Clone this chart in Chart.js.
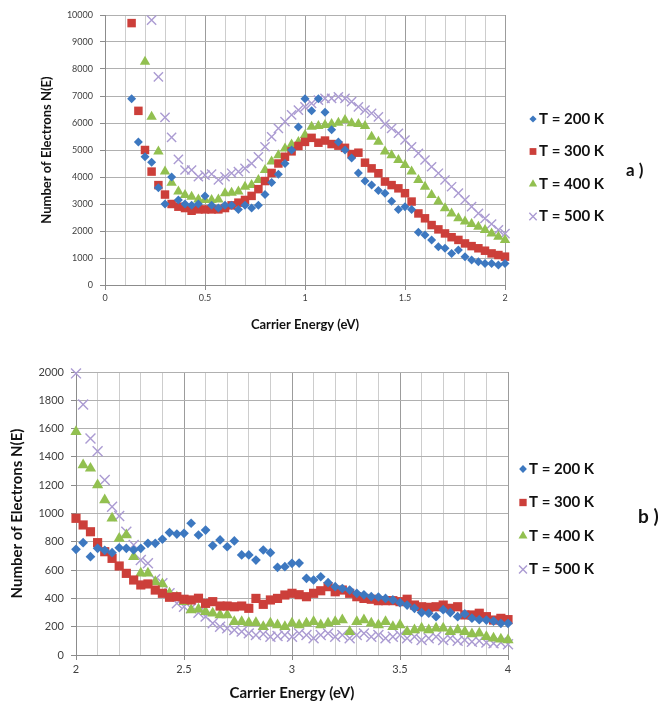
<!DOCTYPE html>
<html>
<head>
<meta charset="utf-8">
<script src="https://cdn.jsdelivr.net/npm/chart.js@4.4.0/dist/chart.umd.min.js"></script>
<style>
  html, body { margin: 0; padding: 0; background: #fff; }
  #wrap { position: relative; width: 662px; height: 707px; overflow: hidden; }
  canvas { position: absolute; left: 0; }
  #chartA { top: 0; }
  #chartB { top: 355px; }
</style>
</head>
<body>
<div id="wrap">
  <canvas id="chartA" width="662" height="345"></canvas>
  <canvas id="chartB" width="662" height="352"></canvas>
</div>
<script>
// series labels
const labels = ['T = 200 K', 'T = 300 K', 'T = 400 K', 'T = 500 K'];

// panel a) carrier energy (eV)
const energyA = [0.133, 0.167, 0.2, 0.233, 0.267, 0.3, 0.333, 0.367, 0.4, 0.433,
  0.467, 0.5, 0.533, 0.567, 0.6, 0.633, 0.667, 0.7, 0.733, 0.767,
  0.8, 0.833, 0.867, 0.9, 0.933, 0.967, 1.0, 1.033, 1.067, 1.1,
  1.133, 1.167, 1.2, 1.233, 1.267, 1.3, 1.333, 1.367, 1.4, 1.433,
  1.467, 1.5, 1.533, 1.567, 1.6, 1.633, 1.667, 1.7, 1.733, 1.767,
  1.8, 1.833, 1.867, 1.9, 1.933, 1.967, 2.0];
const t200A = [6900, 5300, 4750, 4550, 3600, 3000, 4000, 3150, 3000, 2950,
  3000, 3300, 2950, 2850, 2950, 2950, 2800, 2950, 2850, 2950,
  3350, 3800, 4100, 4500, 5000, 5850, 6900, 6450, 6900, 6400,
  5750, 5300, 5000, 4700, 4150, 3850, 3700, 3500, 3400, 3100,
  2800, 2900, 2800, 1950, 1850, 1670, 1420, 1360, 1170, 1300,
  1050, 930, 860, 800, 800, 740, 800];
const t300A = [9700, 6450, 5000, 4200, 3700, 3350, 3000, 2900, 2850, 2750,
  2800, 2800, 2800, 2800, 2850, 2950, 3050, 3150, 3300, 3550,
  3850, 4150, 4500, 4750, 4950, 5150, 5300, 5450, 5270, 5350,
  5220, 5160, 5080, 4850, 4900, 4530, 4320, 4140, 3830, 3700,
  3580, 3400, 3090, 2650, 2470, 2220, 2060, 1910, 1770, 1670,
  1540, 1440, 1360, 1270, 1170, 1110, 1050];
const t400A = [null, null, 8270, 6230, 4940, 4200, 3790, 3460, 3330, 3270,
  3170, 3150, 3150, 3170, 3400, 3420, 3460, 3640, 3700, 3890,
  4260, 4570, 4810, 5060, 5200, 5300, 5560, 5860, 5890, 5930,
  5960, 6010, 6110, 5990, 5960, 5890, 5490, 5310, 4940, 4810,
  4630, 4440, 4200, 3890, 3640, 3330, 3090, 2840, 2650, 2470,
  2350, 2260, 2160, 2040, 1910, 1790, 1670];
const t500A = [null, null, null, 9810, 7710, 6210, 5470, 4650, 4260, 4260,
  4010, 4070, 4110, 3890, 4010, 4140, 4200, 4320, 4500, 4750,
  5120, 5490, 5800, 6050, 6300, 6480, 6600, 6730, 6850, 6910,
  6910, 6970, 6910, 6790, 6600, 6480, 6360, 6230, 5960, 5800,
  5620, 5370, 5120, 4880, 4630, 4380, 4140, 3890, 3640, 3400,
  3150, 2900, 2650, 2470, 2260, 2040, 1900];

// panel b) carrier energy (eV)
const energyB = [2.0, 2.033, 2.067, 2.1, 2.133, 2.167, 2.2, 2.233, 2.267, 2.3,
  2.333, 2.367, 2.4, 2.433, 2.467, 2.5, 2.533, 2.567, 2.6, 2.633,
  2.667, 2.7, 2.733, 2.767, 2.8, 2.833, 2.867, 2.9, 2.933, 2.967,
  3.0, 3.033, 3.067, 3.1, 3.133, 3.167, 3.2, 3.233, 3.267, 3.3,
  3.333, 3.367, 3.4, 3.433, 3.467, 3.5, 3.533, 3.567, 3.6, 3.633,
  3.667, 3.7, 3.733, 3.767, 3.8, 3.833, 3.867, 3.9, 3.933, 3.967, 4.0];
const t200B = [747, 794, 695, 754, 740, 723, 758, 754, 742, 754,
  789, 789, 818, 865, 855, 860, 931, 848, 883, 773,
  813, 765, 806, 707, 707, 671, 742, 723, 620, 624,
  648, 650, 542, 530, 553, 511, 483, 470, 459, 436,
  425, 412, 410, 400, 389, 370, 353, 330, 300, 295,
  271, 320, 300, 271, 290, 260, 250, 247, 240, 224, 224];
const t300B = [966, 919, 871, 794, 730, 683, 629, 577, 530, 495,
  502, 459, 436, 408, 412, 394, 389, 401, 365, 377,
  346, 346, 341, 346, 330, 400, 358, 389, 400, 424,
  436, 426, 412, 436, 454, 483, 447, 459, 436, 412,
  400, 394, 384, 384, 384, 377, 394, 353, 341, 337,
  341, 353, 330, 341, 283, 283, 295, 271, 247, 259, 250];
const t400B = [1578, 1343, 1319, 1201, 1095, 966, 824, 848, 695, 577,
  577, 518, 502, 436, 408, 377, 318, 323, 306, 295,
  283, 283, 235, 235, 228, 228, 200, 224, 212, 200,
  224, 212, 224, 235, 212, 224, 235, 247, 165, 235,
  247, 224, 212, 235, 200, 212, 165, 177, 189, 177,
  189, 189, 165, 177, 165, 148, 153, 129, 118, 111, 106];
const t500B = [1990, 1770, 1530, 1440, 1237, 1048, 982, 871, 777, 671,
  648, 535, 507, 436, 365, 341, 330, 299, 271, 224,
  200, 189, 177, 165, 153, 141, 148, 129, 134, 141,
  129, 153, 141, 118, 141, 153, 129, 141, 118, 141,
  153, 129, 141, 118, 129, 141, 118, 129, 106, 118,
  129, 106, 118, 100, 106, 94, 100, 88, 82, 88, 76];

// marker look per series
const styles = [
  { color: '#3d78c0', shape: 'rectRot', r: 4.5 },
  { color: '#cc3f3a', shape: 'rect', r: 6 },
  { color: '#92c050', shape: 'triangle', r: 6 },
  { color: '#ab9bd2', shape: 'crossRot', r: 6.5 }
];

function pts(xs, ys) {
  return xs.map((x, i) => ({ x: x, y: ys[i] })).filter(p => p.y !== null);
}

function buildSets(xs, series, scale) {
  return series.map((ys, i) => {
    const st = styles[i];
    const cross = st.shape === 'crossRot';
    return {
      label: labels[i],
      data: pts(xs, ys),
      showLine: false,
      clip: false,
      pointStyle: st.shape,
      pointRadius: st.r * scale,
      pointHoverRadius: st.r * scale,
      backgroundColor: st.color,
      borderColor: st.color,
      pointBorderWidth: cross ? 1.4 : 0
    };
  });
}

// legend at the right plus the panel tag
const sideLegend = {
  id: 'sideLegend',
  afterDraw(chart, args, opts) {
    const ctx = chart.ctx;
    ctx.save();
    ctx.textBaseline = 'middle';
    ctx.textAlign = 'left';
    chart.data.datasets.forEach((ds, i) => {
      const y = opts.y + i * opts.gap;
      ctx.fillStyle = ds.backgroundColor;
      ctx.strokeStyle = ds.borderColor;
      ctx.lineWidth = ds.pointBorderWidth || 1;
      Chart.helpers.drawPoint(ctx, {
        pointStyle: ds.pointStyle,
        radius: ds.pointRadius * 0.8,
        rotation: 0,
        borderWidth: ds.pointBorderWidth
      }, opts.x, y);
      ctx.fillStyle = '#111';
      ctx.font = opts.font;
      ctx.fillText(ds.label, opts.x + 6, y);
    });
    ctx.font = opts.tagFont;
    ctx.fillStyle = '#111';
    ctx.fillText(opts.tag, opts.tagX, opts.tagY);
    ctx.restore();
  }
};

function isMajor(v) {
  return Math.abs(v * 2 - Math.round(v * 2)) < 1e-6;
}

function makeChart(id, p) {
  return new Chart(document.getElementById(id), {
    type: 'scatter',
    data: { datasets: buildSets(p.xs, p.series, p.markerScale) },
    plugins: [sideLegend],
    options: {
      responsive: false,
      animation: false,
      events: [],
      layout: { padding: p.padding },
      plugins: {
        legend: { display: false },
        tooltip: { enabled: false },
        sideLegend: p.legend
      },
      scales: {
        x: {
          type: 'linear',
          min: p.xMin,
          max: p.xMax,
          afterFit: (s) => { s.height = p.xHeight; },
          border: { color: '#8c8c8c' },
          grid: {
            color: (c) => (isMajor(c.tick.value) ? '#9c9c9c' : '#cdcdcd'),
            tickColor: (c) => (isMajor(c.tick.value) ? '#8c8c8c' : 'rgba(0,0,0,0)'),
            tickLength: 5
          },
          ticks: {
            stepSize: 0.1,
            autoSkip: false,
            maxRotation: 0,
            padding: 3,
            color: '#404040',
            font: { family: 'Lato', size: p.tickSize },
            callback: (v) => (isMajor(v) ? String(Math.round(v * 2) / 2) : '')
          },
          title: {
            display: true,
            text: 'Carrier Energy (eV)',
            padding: 0,
            color: '#111',
            font: { family: 'Lato', size: p.titleSize, weight: 'bold' }
          }
        },
        y: {
          min: 0,
          max: p.yMax,
          afterFit: (s) => { s.width = p.yWidth; },
          border: { color: '#8c8c8c' },
          grid: { color: '#b0b0b0', tickColor: '#8c8c8c', tickLength: 5 },
          ticks: {
            stepSize: p.yStep,
            padding: 7,
            color: '#404040',
            font: { family: 'Lato', size: p.tickSize },
            callback: (v) => String(v)
          },
          title: {
            display: true,
            text: 'Number of Electrons N(E)',
            padding: 0,
            color: '#111',
            font: { family: 'Lato', size: p.titleSize, weight: 'bold' }
          }
        }
      }
    }
  });
}

makeChart('chartA', {
  xs: energyA,
  series: [t200A, t300A, t400A, t500A],
  markerScale: 1,
  xMin: 0, xMax: 2, yMax: 10000, yStep: 1000,
  padding: { left: 39, right: 157, top: 15, bottom: 12 },
  yWidth: 66, xHeight: 48,
  tickSize: 9, titleSize: 13,
  legend: {
    x: 533, y: 119, gap: 32.5,
    font: 'bold 15px Lato',
    tag: 'a )', tagX: 626, tagY: 171, tagFont: 'bold 17px Lato'
  }
});

makeChart('chartB', {
  xs: energyB,
  series: [t200B, t300B, t400B, t500B],
  markerScale: 1.08,
  xMin: 2, xMax: 4, yMax: 2000, yStep: 200,
  padding: { left: 8, right: 154, top: 17, bottom: 5 },
  yWidth: 68, xHeight: 47,
  tickSize: 11, titleSize: 15,
  legend: {
    x: 523, y: 114, gap: 33.5,
    font: 'bold 15px Lato',
    tag: 'b )', tagX: 638, tagY: 162, tagFont: 'bold 19px Lato'
  }
});
</script>
</body>
</html>
